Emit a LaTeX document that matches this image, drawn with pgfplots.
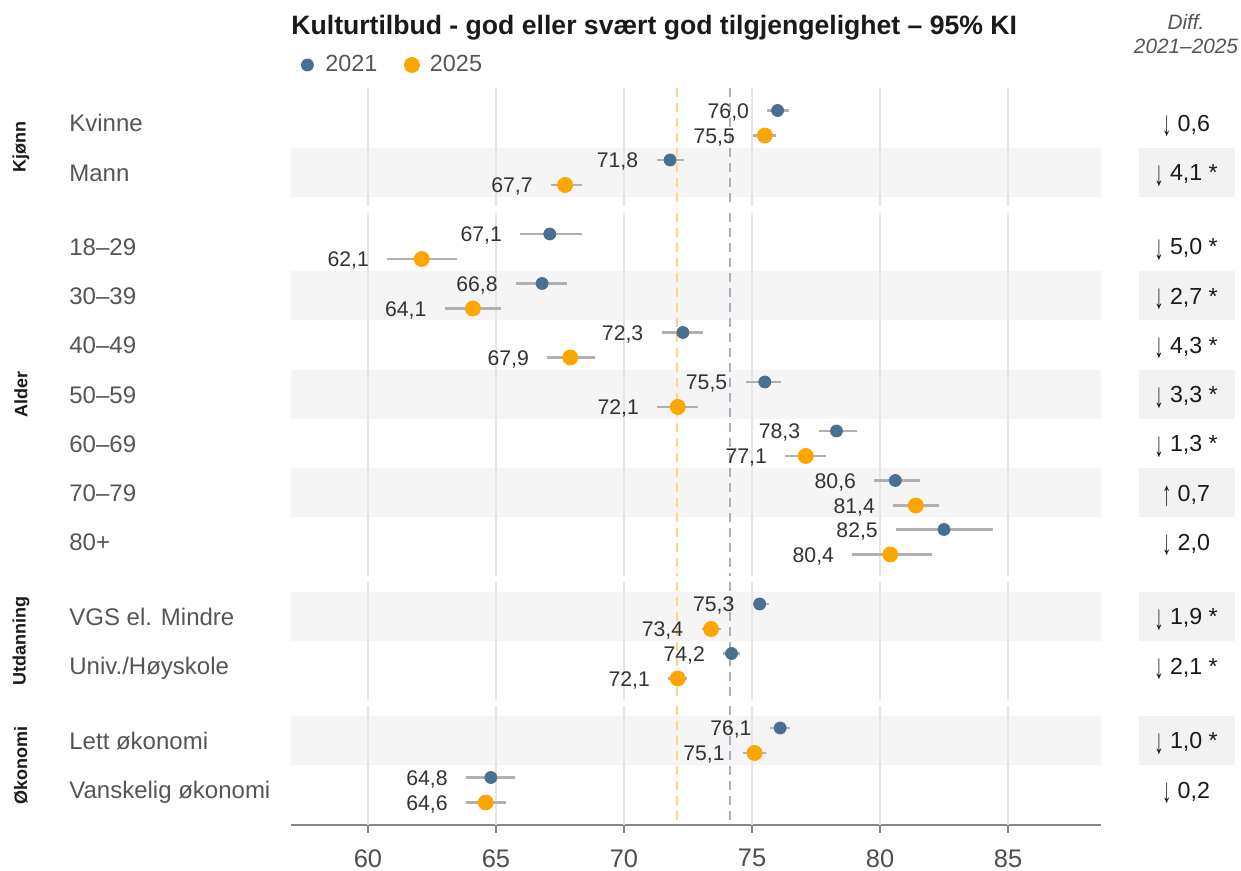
\documentclass[border=0pt]{standalone}
\usepackage{fontspec}
\setmainfont{Liberation Sans}
\usepackage{graphicx}
\usepackage{pgfplots}
\pgfplotsset{compat=1.18}
\usepackage{pgfplotstable}
\definecolor{cA}{HTML}{4A6F8F}
\definecolor{cB}{HTML}{FFA500}
\definecolor{band}{HTML}{F5F5F5}
\definecolor{dbox}{HTML}{F2F2F2}
\definecolor{gridc}{HTML}{E5E5E5}
\definecolor{cic}{HTML}{B0B0B0}
\definecolor{dashA}{HTML}{A0B4C6}
\definecolor{dashB}{HTML}{FFD38C}
\definecolor{axc}{HTML}{888888}
\definecolor{tickc}{HTML}{4D4D4D}
\definecolor{rowc}{HTML}{555555}
\definecolor{lblc}{HTML}{333333}
\definecolor{darkc}{HTML}{1A1A1A}

\newcommand{\dn}{\raisebox{-0.2em}{\scalebox{0.8}[1.5]{↓}}}
\newcommand{\up}{\raisebox{-0.2em}{\scalebox{0.8}[1.5]{↑}}}

\pgfplotsset{
  dotleg/.style={legend image code/.code={\path[draw=none, fill=none] (-4pt,-4pt) rectangle (4pt,4pt); \draw[##1] plot coordinates {(0pt,0pt)};}},
  lblnodes/.style={
    point meta=explicit symbolic,
    visualization depends on={\thisrow{em}\as\emval},
    nodes near coords,
    every node near coord/.append style={font=\fontsize{10.6}{12}\selectfont, text=lblc, anchor=east, inner sep=0pt, text height=7.6pt, text depth=0pt, xshift={-\emval*12.8pt-9pt}}},
  cistyle/.style={forget plot, only marks, mark=none, error bars/.cd, x dir=both, x explicit, error mark=none,
    error bar style={line width=1.25pt, color=cic}},
}

% 2021: y-position, value, CI minus, CI plus, label
\pgfplotstableread{
y val em ep lab
760.5 76.0 0.40 0.45 76,0
711.0 71.8 0.53 0.54 71,8
637.0 67.1 1.15 1.25 67,1
587.5 66.8 1.02 0.99 66,8
538.5 72.3 0.83 0.77 72,3
489.0 75.5 0.75 0.63 75,5
440.0 78.3 0.70 0.80 78,3
390.5 80.6 0.82 0.97 80,6
341.5 82.5 1.87 1.90 82,5
267.0 75.3 0.27 0.35 75,3
217.5 74.2 0.32 0.33 74,2
143.0 76.1 0.40 0.37 76,1
93.5 64.8 0.97 0.95 64,8
}\tA
% 2025
\pgfplotstableread{
y val em ep lab
735.5 75.5 0.45 0.45 75,5
686.0 67.7 0.55 0.65 67,7
612.0 62.1 1.35 1.36 62,1
562.5 64.1 1.10 1.10 64,1
513.5 67.9 0.90 0.98 67,9
464.0 72.1 0.80 0.80 72,1
415.0 77.1 0.80 0.80 77,1
365.5 81.4 0.88 0.92 81,4
316.5 80.4 1.48 1.62 80,4
242.0 73.4 0.37 0.38 73,4
192.5 72.1 0.37 0.37 72,1
118.0 75.1 0.45 0.43 75,1
68.5 64.6 0.77 0.78 64,6
}\tB

\newcommand{\rowlab}[2]{\node[anchor=west,inner sep=0pt,text height=8.6pt,text depth=0pt,font=\fontsize{12}{14}\selectfont,text=rowc] at (axis cs:48.3203,#1) {#2};}
\newcommand{\difflab}[2]{\node[anchor=center,inner sep=0pt,text height=8.3pt,text depth=0pt,font=\fontsize{11.6}{13}\selectfont,text=darkc] at (axis cs:91.9531,#1) {#2};}
\newcommand{\grplab}[2]{\node[rotate=90,anchor=center,inner sep=0pt,font=\bfseries\fontsize{9}{11}\selectfont,text=darkc] at (axis cs:46.4453,#1) {#2};}
\newcommand{\bandrow}[1]{\fill[band] (axis cs:56.9922,#1-24.5) rectangle (axis cs:88.6328,#1+24.5);
  \fill[dbox] (axis cs:90.1172,#1-24.5) rectangle (axis cs:93.8672,#1+24.5);}
\newcommand{\vseg}[2]{%
  \draw[#2] (axis cs:#1,783) -- (axis cs:#1,665);
  \draw[#2] (axis cs:#1,658) -- (axis cs:#1,295);
  \draw[#2] (axis cs:#1,289) -- (axis cs:#1,171);
  \draw[#2] (axis cs:#1,165) -- (axis cs:#1,46);}

\begin{document}
\begin{tikzpicture}
\begin{axis}[
  scale only axis,
  width=405pt, height=368.5pt,
  xmin=56.9922, xmax=88.6328,
  ymin=46, ymax=783,
  clip=false,
  axis x line*=bottom,
  axis y line=none,
  x axis line style={-, draw=axc, line width=1pt},
  xtick={60,65,70,75,80,85},
  ytick=\empty,
  tick align=outside,
  major tick length=4pt,
  tick style={draw=axc, line width=1pt},
  xticklabel style={font=\fontsize{12.7}{14}\selectfont, text=tickc, inner sep=0pt, anchor=north, yshift=-8pt},
  /pgf/number format/assume math mode=true,
  legend style={at={(0.0099,1.0312)}, anchor=west, draw=none, fill=none, inner sep=0pt,
    nodes={inner sep=0pt, font=\fontsize{11.7}{13}\selectfont, text=rowc},
    /tikz/every odd column/.append style={column sep=5pt},
    /tikz/every even column/.append style={column sep=13.25pt}},
  legend columns=2,
]
% bounding box of the whole picture (1241 x 871 px)
\path (axis cs:45.625,0) rectangle (axis cs:94.1016,871);

% bands and diff boxes
\bandrow{698.5}
\bandrow{575}
\bandrow{476.5}
\bandrow{378}
\bandrow{254.5}
\bandrow{130.5}

% grid lines per panel
\vseg{60}{gridc, line width=1pt}
\vseg{65}{gridc, line width=1pt}
\vseg{70}{gridc, line width=1pt}
\vseg{75}{gridc, line width=1pt}
\vseg{80}{gridc, line width=1pt}
\vseg{85}{gridc, line width=1pt}
% reference lines
\vseg{74.15}{dashA, line width=1pt, dash pattern=on 4.5pt off 3pt}
\vseg{72.07}{dashB, line width=1pt, dash pattern=on 4.5pt off 3pt}

% confidence intervals
\addplot[cistyle] table[x=val, y=y, x error plus=ep, x error minus=em] {\tA};
\addplot[cistyle] table[x=val, y=y, x error plus=ep, x error minus=em] {\tB};

% points with labels
\addplot[only marks, mark=*, mark size=3pt, color=cA, mark options={draw=none, fill=cA}, dotleg, lblnodes]
  table[x=val, y=y, meta=lab] {\tA};
\addlegendentry{2021}
\addplot[only marks, mark=*, mark size=3.75pt, color=cB, mark options={draw=none, fill=cB}, dotleg, lblnodes]
  table[x=val, y=y, meta=lab] {\tB};
\addlegendentry{2025}

% title and diff header
\node[anchor=west, inner sep=0pt, font=\bfseries\fontsize{13.3}{15}\selectfont, text=darkc] at (axis cs:56.9922,843.5) {Kulturtilbud - god eller svært god tilgjengelighet – 95\% KI};
\node[anchor=center, inner sep=0pt, font=\itshape\fontsize{10.4}{12}\selectfont, text=rowc] at (axis cs:91.9531,849) {Diff.};
\node[anchor=center, inner sep=0pt, font=\itshape\fontsize{10.4}{12}\selectfont, text=rowc] at (axis cs:91.9531,825) {2021–2025};

% group labels
\grplab{724}{Kjønn}
\grplab{476.5}{Alder}
\grplab{230}{Utdanning}
\grplab{105.5}{Økonomi}

% row labels
\rowlab{748}{Kvinne}
\rowlab{698.5}{Mann}
\rowlab{624.5}{18–29}
\rowlab{575}{30–39}
\rowlab{526}{40–49}
\rowlab{476.5}{50–59}
\rowlab{427.5}{60–69}
\rowlab{378}{70–79}
\rowlab{329}{80+}
\rowlab{254.5}{VGS el. Mindre}
\rowlab{205}{Univ./Høyskole}
\rowlab{130.5}{Lett økonomi}
\rowlab{81}{Vanskelig økonomi}

% differences
\difflab{748}{\dn\ 0,6}
\difflab{698.5}{\dn\ 4,1 *}
\difflab{624.5}{\dn\ 5,0 *}
\difflab{575}{\dn\ 2,7 *}
\difflab{526}{\dn\ 4,3 *}
\difflab{476.5}{\dn\ 3,3 *}
\difflab{427.5}{\dn\ 1,3 *}
\difflab{378}{\up\ 0,7}
\difflab{329}{\dn\ 2,0}
\difflab{254.5}{\dn\ 1,9 *}
\difflab{205}{\dn\ 2,1 *}
\difflab{130.5}{\dn\ 1,0 *}
\difflab{81}{\dn\ 0,2}
\end{axis}
\end{tikzpicture}
\end{document}
